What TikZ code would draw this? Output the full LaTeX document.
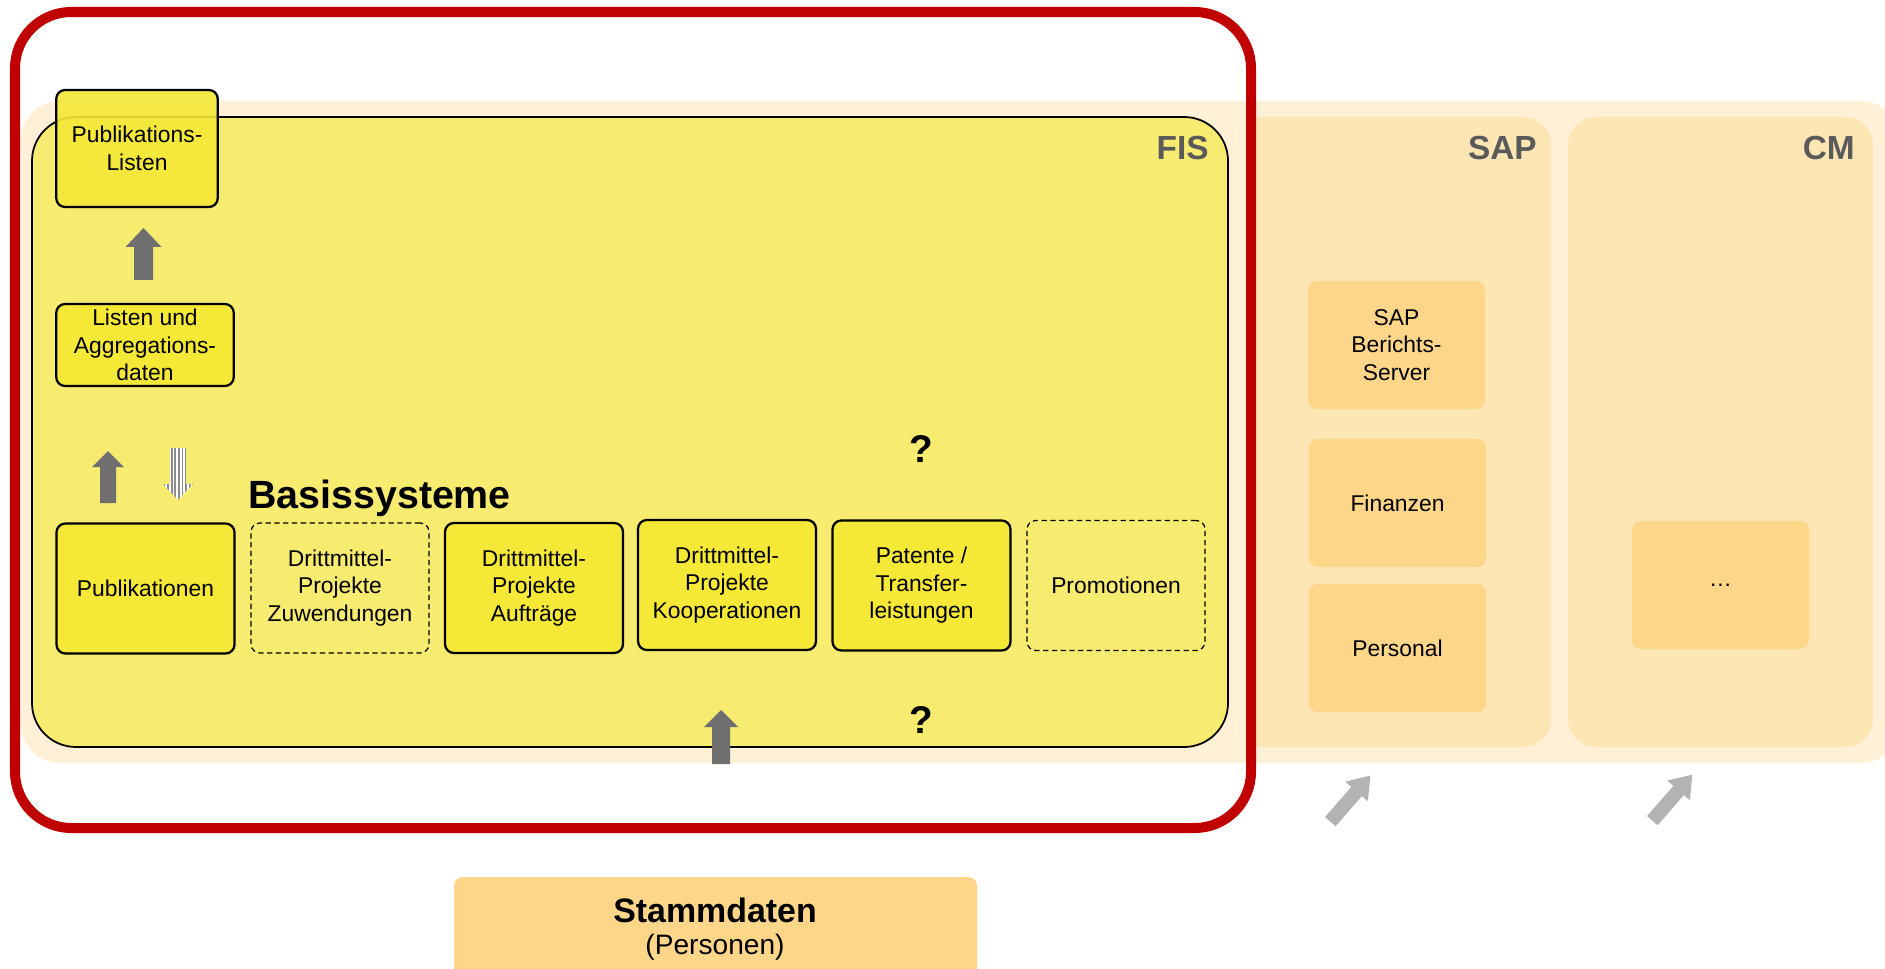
\documentclass[tikz,border=0pt]{standalone}
\usepackage{fontspec}
\setmainfont{Liberation Sans}
\definecolor{redf}{HTML}{C00000}
\definecolor{cream}{HTML}{FFF0D7}
\definecolor{fisy}{HTML}{F7EB70}
\definecolor{boxy}{HTML}{F5E837}
\definecolor{panel}{HTML}{FDE5B4}
\definecolor{boxo}{HTML}{FDD68A}
\definecolor{darkg}{HTML}{6F6F6F}
\definecolor{lightg}{HTML}{B3B3B3}
\definecolor{labelg}{HTML}{5A5A5A}
\tikzset{
  txt/.style={font=\fontsize{13}{15.7}\selectfont, align=center},
  ybox/.style={txt, draw=black, line width=1.3pt, fill=boxy, rounded corners=5pt,
    minimum width=3.56cm, minimum height=2.6cm, inner sep=0pt},
  dbox/.style={txt, draw=black, line width=0.7pt, dash pattern=on 3pt off 2pt, rounded corners=5pt,
    minimum width=3.56cm, minimum height=2.6cm, inner sep=0pt},
  obox/.style={txt, fill=boxo, rounded corners=5pt, minimum width=3.54cm, minimum height=2.56cm, inner sep=0pt},
  syslabel/.style={font=\bfseries\fontsize{19}{22}\selectfont, text=labelg, anchor=east, inner sep=0pt},
  qmark/.style={font=\bfseries\fontsize{22}{26}\selectfont, inner sep=0pt}
}
\begin{document}
\begin{tikzpicture}[x=0.02cm,y=-0.02cm]
\clip (0,0) rectangle (1885,969);
% background band
\fill[cream, rounded corners=22pt] (21,101) rectangle (1900,763);
% SAP and CM panels
\begin{scope}
\clip (1247,100) rectangle (1560,760);
\fill[panel, rounded corners=16pt] (1200,117) rectangle (1551,747);
\end{scope}
\fill[panel, rounded corners=16pt] (1568,117) rectangle (1873,747);
% FIS panel
\draw[fill=fisy, line width=1pt, rounded corners=25pt] (32,117) rectangle (1228,747);
\node[syslabel] (fis) at (1209,148) {FIS};
\node[syslabel] (sap) at (1537,148) {SAP};
\node[syslabel] (cm) at (1855,148) {CM};
% FIS content
\node[ybox, fill opacity=0.9, text opacity=1, minimum width=3.23cm, minimum height=2.34cm] (publist) at (137,148.5) {Publikations-\\Listen};
\node[ybox, minimum width=3.55cm, minimum height=1.64cm] (listen) at (145,345) {Listen und\\Aggregations-\\daten};
\node[font=\bfseries\fontsize{22.4}{26}\selectfont, anchor=base west, inner sep=0pt] (basis) at (248,508) {Basissysteme};
\node[ybox] (pub) at (145.5,588.5) {Publikationen};
\node[dbox] (zuw) at (340,588) {Drittmittel-\\Projekte\\Zuwendungen};
\node[ybox] (auf) at (534,588) {Drittmittel-\\Projekte\\Aufträge};
\node[ybox] (koop) at (727,585) {Drittmittel-\\Projekte\\Kooperationen};
\node[ybox] (pat) at (921.5,585.5) {Patente /\\Transfer-\\leistungen};
\node[dbox] (prom) at (1116,585.5) {Promotionen};
\node[qmark] (q1) at (921,449) {?};
\node[qmark] (q2) at (921,720) {?};
% dark block arrows
\fill[darkg] (134,280) -- (134,247) -- (125.5,247) -- (143.5,228) -- (161.5,247) -- (153,247) -- (153,280) -- cycle;
\fill[darkg] (100,503) -- (100,467) -- (92,467) -- (108,451) -- (124,467) -- (116,467) -- (116,503) -- cycle;
\fill[darkg] (712,764) -- (712,727) -- (704,727) -- (721,710) -- (738,727) -- (730,727) -- (730,764) -- cycle;
% striped down arrow
\begin{scope}
\clip (170,448) -- (186,448) -- (186,484) -- (193,484) -- (178,500) -- (163,484) -- (170,484) -- cycle;
\fill[white] (160,440) rectangle (196,505);
\foreach \i in {0,...,8} {
  \fill[darkg!80] ({163.5+\i*3.6},440) rectangle ({165.3+\i*3.6},505);
}
\end{scope}
% SAP / CM content
\node[obox] (bericht) at (1396.5,345) {SAP\\Berichts-\\Server};
\node[obox] (fin) at (1397.5,503) {Finanzen};
\node[obox] (pers) at (1397.5,648) {Personal};
\node[obox] (dots) at (1720.5,585) {\ldots};
% red frame
\draw[redf, line width=5.7pt, rounded corners=32pt] (15,12) rectangle (1251,828);
% light arrows
\begin{scope}[shift={(1350,799)}, rotate=-41]
\fill[lightg] (-7,30) -- (-7,-10) -- (-15,-10) -- (0,-31) -- (15,-10) -- (7,-10) -- (7,30) -- cycle;
\end{scope}
\begin{scope}[shift={(1672,798)}, rotate=-41]
\fill[lightg] (-7,30) -- (-7,-10) -- (-15,-10) -- (0,-31) -- (15,-10) -- (7,-10) -- (7,30) -- cycle;
\end{scope}
% Stammdaten
\fill[boxo, rounded corners=5pt] (454,877) rectangle (977,1010);
\node[font=\bfseries\fontsize{19.3}{22}\selectfont, inner sep=0pt] (stamm) at (715,910) {Stammdaten};
\node[font=\fontsize{16}{19}\selectfont, inner sep=0pt] (personen) at (715,947) {(Personen)};
\end{tikzpicture}
\end{document}
